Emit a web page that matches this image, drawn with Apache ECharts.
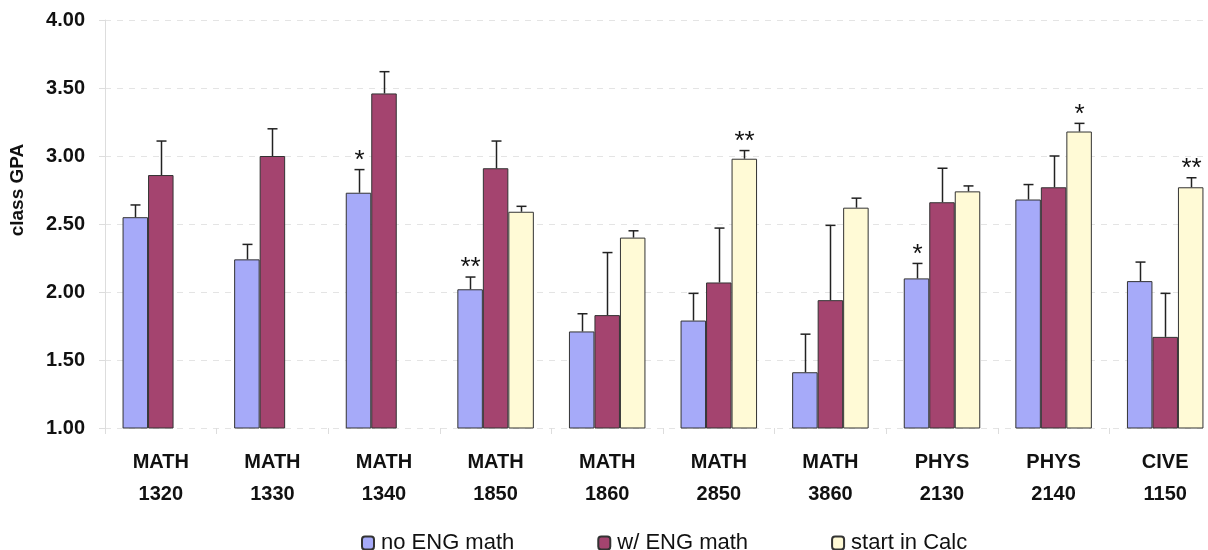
<!DOCTYPE html>
<html>
<head>
<meta charset="utf-8">
<script src="https://cdn.jsdelivr.net/npm/echarts@6/dist/echarts.min.js"></script>
<style>
  html, body { margin: 0; padding: 0; background: #fff; }
  #chart { width: 1208px; height: 550px; }
</style>
</head>
<body>
<div id="chart"></div>
<script>
// categories and series values (error = upper error bar length)
var categories = ['MATH\n1320', 'MATH\n1330', 'MATH\n1340', 'MATH\n1850', 'MATH\n1860',
                  'MATH\n2850', 'MATH\n3860', 'PHYS\n2130', 'PHYS\n2140', 'CIVE\n1150'];
var seriesNames = ['no ENG math', 'w/ ENG math', 'start in Calc'];

var noEng      = [2.55, 2.24, 2.73, 2.02, 1.71, 1.79, 1.41, 2.10, 2.68, 2.08];
var noEngErr   = [0.09, 0.11, 0.17, 0.09, 0.13, 0.20, 0.28, 0.11, 0.11, 0.14];
var withEng    = [2.86, 3.00, 3.46, 2.91, 1.83, 2.07, 1.94, 2.66, 2.77, 1.67];
var withEngErr = [0.25, 0.20, 0.16, 0.20, 0.46, 0.40, 0.55, 0.25, 0.23, 0.32];
var calc       = [null, null, null, 2.59, 2.40, 2.98, 2.62, 2.74, 3.18, 2.77];
var calcErr    = [null, null, null, 0.04, 0.05, 0.06, 0.07, 0.04, 0.06, 0.07];

// significance marks
var noEngSig   = ['', '', '*', '**', '', '', '', '*', '', ''];
var withEngSig = ['', '', '', '', '', '', '', '', '', ''];
var calcSig    = ['', '', '', '', '', '**', '', '', '*', '**'];

var colors = ['#a6aaf9', '#a4446f', '#fffad6'];
var BAR_W = 25.5;

var chart = echarts.init(document.getElementById('chart'), null, { renderer: 'canvas' });

function errorSeries(slot, values, errs, sigs) {
    var data = [];
    for (var i = 0; i < values.length; i++) {
        if (values[i] == null) continue;
        data.push([i, values[i], values[i] + errs[i], sigs[i]]);
    }
    return {
        type: 'custom',
        z: 5,
        silent: true,
        data: data,
        renderItem: function (params, api) {
            var off = (slot - 1) * BAR_W;
            var base = api.coord([api.value(0), api.value(1)]);
            var top = api.coord([api.value(0), api.value(2)]);
            var x = Math.round(base[0] + off) + 0.5;
            var style = { stroke: '#222', lineWidth: 1.5 };
            var children = [
                { type: 'line', shape: { x1: x, y1: base[1], x2: x, y2: top[1] }, style: style },
                { type: 'line', shape: { x1: x - 5, y1: top[1], x2: x + 5, y2: top[1] }, style: style }
            ];
            var sig = data[params.dataIndex][3];
            if (sig) {
                children.push({
                    type: 'text',
                    style: {
                        text: sig, x: x, y: top[1] + 4,
                        align: 'center', verticalAlign: 'bottom',
                        font: '26px "Liberation Sans", Arial, sans-serif',
                        fill: '#111'
                    }
                });
            }
            return { type: 'group', children: children };
        }
    };
}

function barSeries(idx, values) {
    return {
        name: seriesNames[idx],
        type: 'bar',
        barWidth: BAR_W,
        barGap: '0%',
        data: values.map(function (v) { return v == null ? '-' : v; }),
        itemStyle: { color: colors[idx], borderColor: '#333', borderWidth: 1 }
    };
}

var option = {
    animation: false,
    textStyle: { fontFamily: '"Liberation Sans", Arial, sans-serif' },
    // plot area runs past the right edge of the picture (cropped in the original)
    grid: { left: 105, width: 1116, top: 20, bottom: 122, outerBoundsMode: 'none', containLabel: false },
    legend: {
        data: seriesNames,
        left: 356,
        top: 527,
        itemGap: 83,
        itemWidth: 12,
        itemHeight: 13,
        textStyle: { fontSize: 22, color: '#111', padding: [0, 0, 0, 2] }
    },
    xAxis: {
        type: 'category',
        data: categories,
        axisLine: { show: false },
        axisTick: { show: true, length: 6, lineStyle: { color: '#ddd' } },
        axisLabel: {
            margin: 18, fontSize: 20, fontWeight: 'bold', color: '#111', lineHeight: 32
        }
    },
    yAxis: {
        type: 'value',
        min: 1, max: 4, interval: 0.5,
        name: 'class GPA',
        nameLocation: 'middle',
        nameGap: 78,
        nameTextStyle: { fontSize: 19, fontWeight: 'bold', color: '#111', padding: [0, 0, 0, 68] },
        axisLine: { show: true, lineStyle: { color: '#ddd' } },
        axisTick: { show: true, length: 6, lineStyle: { color: '#ddd' } },
        axisLabel: {
            margin: 20, fontSize: 20, fontWeight: 'bold', color: '#111',
            formatter: function (v) { return v.toFixed(2); }
        },
        splitLine: { lineStyle: { color: '#e4e4e4', type: [6, 6] } }
    },
    series: [
        barSeries(0, noEng),
        barSeries(1, withEng),
        barSeries(2, calc),
        errorSeries(0, noEng, noEngErr, noEngSig),
        errorSeries(1, withEng, withEngErr, withEngSig),
        errorSeries(2, calc, calcErr, calcSig)
    ]
};

chart.setOption(option);
</script>
</body>
</html>
